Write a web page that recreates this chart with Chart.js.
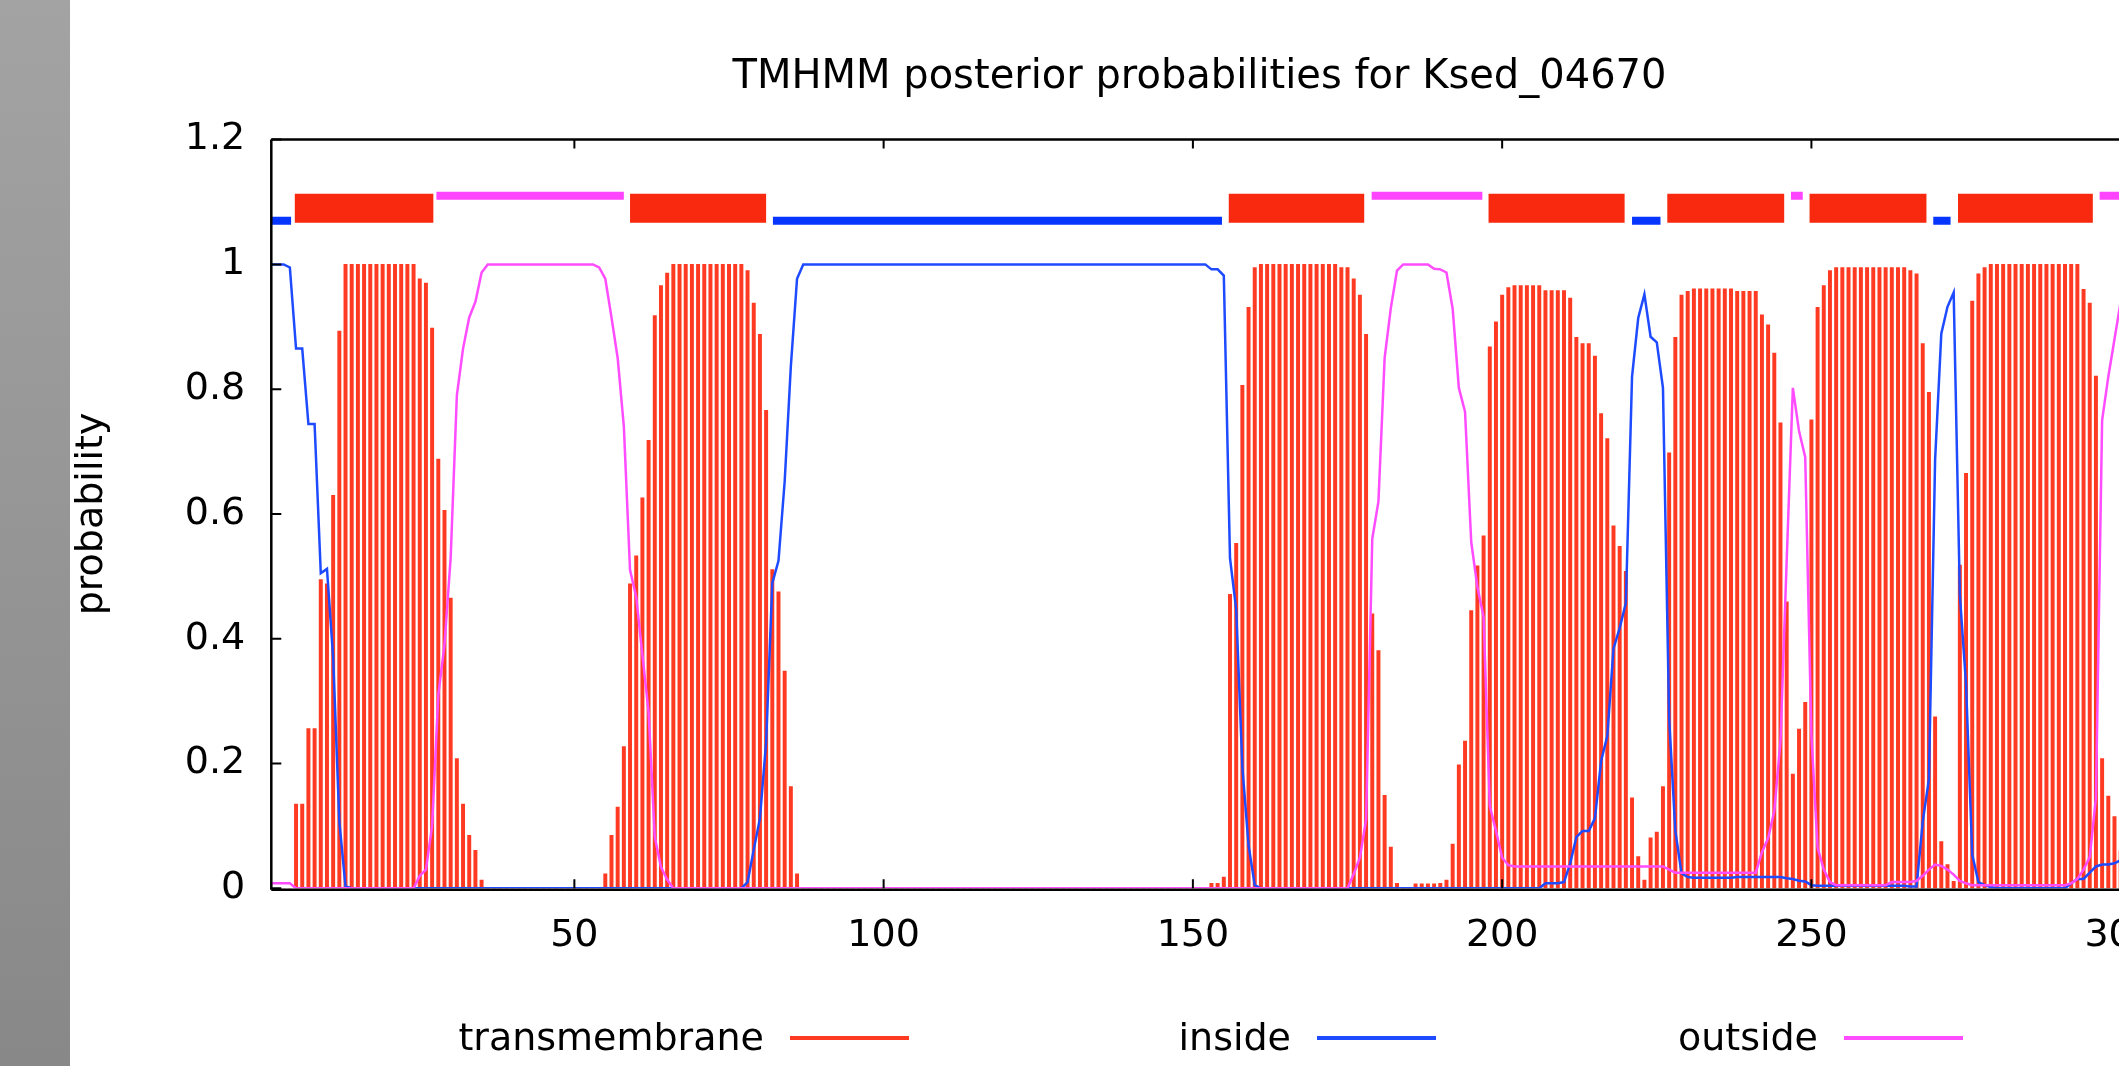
<!DOCTYPE html>
<html>
<head>
<meta charset="utf-8">
<script src="https://cdn.jsdelivr.net/npm/chart.js@4.4.1/dist/chart.umd.min.js"></script>
<style>
html,body{margin:0;padding:0;width:2119px;height:1066px;overflow:hidden;background:#fff;}
#band{position:absolute;left:0;top:0;width:70px;height:1066px;background:linear-gradient(#a3a3a3,#888888);}
#wrap{position:absolute;left:0;top:0;width:2119px;height:1066px;overflow:hidden;}
#c{position:absolute;left:0;top:0;}
.lgText{position:absolute;font-family:'DejaVu Sans';font-size:38px;line-height:38px;color:#000;white-space:nowrap;}
.lgLine{position:absolute;height:4px;}
</style>
</head>
<body>
<div id="band"></div>
<div id="wrap"><canvas id="c" width="2439" height="1066"></canvas></div>
<div id="legend"></div>
<script>
// ---------------- data ----------------
const chartTitle = 'TMHMM posterior probabilities for Ksed_04670';
const yAxisTitle = 'probability';
const seriesNames = ['transmembrane', 'inside', 'outside'];

const xTickValues = [50, 100, 150, 200, 250, 300];
const xTickLabels = ['50', '100', '150', '200', '250', '300'];
const yTickValues = [0, 0.2, 0.4, 0.6, 0.8, 1, 1.2];
const yTickLabels = ['0', '0.2', '0.4', '0.6', '0.8', '1', '1.2'];

// posterior probabilities per residue (residue 1 .. 300)
const transmembrane = [
  0,0,0,0,0.135,0.135,0.256,0.256,0.495,0.488,
  0.63,0.893,1,1,1,1,1,1,1,1,
  1,1,1,1,0.977,0.97,0.898,0.688,0.606,0.465,
  0.208,0.135,0.085,0.061,0.013,0,0,0,0,0,
  0,0,0,0,0,0,0,0,0,0,
  0,0,0,0,0.023,0.085,0.13,0.227,0.488,0.533,
  0.626,0.718,0.918,0.966,0.986,1,1,1,1,1,
  1,1,1,1,1,1,1,0.99,0.938,0.888,
  0.766,0.511,0.475,0.348,0.163,0.023,0,0,0,0,
  0,0,0,0,0,0,0,0,0,0,
  0,0,0,0,0,0,0,0,0,0,
  0,0,0,0,0,0,0,0,0,0,
  0,0,0,0,0,0,0,0,0,0,
  0,0,0,0,0,0,0,0,0,0,
  0,0,0,0,0,0,0,0,0,0,
  0,0,0.008,0.008,0.018,0.471,0.553,0.806,0.931,0.995,
  1,1,1,1,1,1,1,1,1,1,
  1,1,1,0.995,0.995,0.977,0.951,0.888,0.44,0.381,
  0.149,0.066,0.008,0,0,0.007,0.007,0.007,0.007,0.008,
  0.013,0.071,0.198,0.236,0.445,0.517,0.565,0.868,0.908,0.951,
  0.963,0.966,0.966,0.966,0.966,0.966,0.958,0.958,0.958,0.958,
  0.946,0.883,0.873,0.873,0.853,0.761,0.721,0.581,0.548,0.508,
  0.145,0.051,0.013,0.081,0.09,0.163,0.698,0.883,0.951,0.957,
  0.961,0.961,0.961,0.961,0.961,0.961,0.961,0.957,0.957,0.957,
  0.957,0.919,0.903,0.858,0.746,0.459,0.183,0.255,0.298,0.751,
  0.931,0.966,0.99,0.995,0.995,0.995,0.995,0.995,0.995,0.995,
  0.995,0.995,0.995,0.995,0.995,0.99,0.985,0.873,0.795,0.275,
  0.075,0.038,0.011,0.518,0.665,0.941,0.985,0.995,1,1,
  1,1,1,1,1,1,1,1,1,1,
  1,1,1,0.96,0.938,0.821,0.208,0.148,0.115,0.06
];

const inside = [
  1,1,1,0.995,0.865,0.865,0.744,0.744,0.505,0.512,
  0.37,0.107,0.003,0,0,0,0,0,0,0,
  0,0,0,0,0,0,0,0,0,0,
  0,0,0,0,0,0,0,0,0,0,
  0,0,0,0,0,0,0,0,0,0,
  0,0,0,0,0,0,0,0,0,0,
  0,0,0,0,0,0,0,0,0,0,
  0,0,0,0,0,0,0,0.01,0.062,0.112,
  0.234,0.489,0.525,0.652,0.837,0.977,1,1,1,1,
  1,1,1,1,1,1,1,1,1,1,
  1,1,1,1,1,1,1,1,1,1,
  1,1,1,1,1,1,1,1,1,1,
  1,1,1,1,1,1,1,1,1,1,
  1,1,1,1,1,1,1,1,1,1,
  1,1,1,1,1,1,1,1,1,1,
  1,1,0.992,0.992,0.982,0.529,0.447,0.194,0.069,0.005,
  0,0,0,0,0,0,0,0,0,0,
  0,0,0,0,0,0,0,0,0,0,
  0,0,0,0,0,0,0,0,0,0,
  0,0,0,0,0,0,0,0,0,0,
  0,0,0,0,0,0,0.008,0.008,0.008,0.01,
  0.04,0.082,0.092,0.092,0.112,0.204,0.244,0.384,0.417,0.457,
  0.82,0.914,0.952,0.884,0.875,0.802,0.272,0.092,0.024,0.018,
  0.017,0.017,0.017,0.017,0.017,0.017,0.017,0.018,0.018,0.018,
  0.018,0.018,0.018,0.018,0.018,0.016,0.015,0.012,0.011,0.005,
  0.004,0.004,0.004,0.004,0.004,0.004,0.004,0.004,0.004,0.004,
  0.004,0.004,0.004,0.004,0.004,0.003,0.003,0.107,0.175,0.687,
  0.889,0.932,0.955,0.47,0.327,0.054,0.01,0.005,0.002,0,
  0,0,0,0,0,0,0,0,0,0,
  0,0.008,0.015,0.015,0.025,0.035,0.038,0.038,0.04,0.045
];

const outside = [
  0.008,0.008,0.008,0.008,0,0,0,0,0,0,
  0,0,0,0,0,0,0,0,0,0,
  0,0,0,0,0.02,0.03,0.1,0.31,0.39,0.53,
  0.79,0.865,0.915,0.94,0.987,1,1,1,1,1,
  1,1,1,1,1,1,1,1,1,1,
  1,1,1,0.995,0.977,0.915,0.85,0.74,0.51,0.467,
  0.374,0.282,0.082,0.034,0.014,0,0,0,0,0,
  0,0,0,0,0,0,0,0,0,0,
  0,0,0,0,0,0,0,0,0,0,
  0,0,0,0,0,0,0,0,0,0,
  0,0,0,0,0,0,0,0,0,0,
  0,0,0,0,0,0,0,0,0,0,
  0,0,0,0,0,0,0,0,0,0,
  0,0,0,0,0,0,0,0,0,0,
  0,0,0,0,0,0,0,0,0,0,
  0,0,0,0,0,0,0,0,0,0,
  0,0,0,0,0,0,0,0,0,0,
  0,0,0,0,0,0.023,0.049,0.11,0.56,0.62,
  0.85,0.93,0.99,1,1,1,1,1,0.993,0.992,
  0.987,0.929,0.802,0.764,0.555,0.483,0.435,0.132,0.092,0.049,
  0.037,0.035,0.035,0.035,0.035,0.035,0.035,0.035,0.035,0.035,
  0.035,0.035,0.035,0.035,0.035,0.035,0.035,0.035,0.035,0.035,
  0.035,0.035,0.035,0.035,0.035,0.035,0.03,0.025,0.025,0.025,
  0.025,0.025,0.025,0.025,0.025,0.025,0.025,0.025,0.025,0.025,
  0.025,0.058,0.08,0.124,0.236,0.525,0.802,0.733,0.691,0.245,
  0.065,0.03,0.01,0.005,0.005,0.005,0.005,0.005,0.005,0.005,
  0.005,0.005,0.01,0.01,0.01,0.01,0.012,0.02,0.03,0.038,
  0.036,0.03,0.022,0.012,0.008,0.005,0.005,0.005,0.005,0.005,
  0.005,0.005,0.005,0.005,0.005,0.005,0.005,0.005,0.005,0.005,
  0.005,0.008,0.015,0.03,0.05,0.145,0.75,0.82,0.88,0.94
];

// predicted topology segments (residue start, residue end) and their levels
const tmSegments      = [[4.8,27.2],[59.0,81.0],[155.8,177.7],[197.8,219.8],[226.7,245.6],[249.7,268.6],[273.7,295.5]];
const insideSegments  = [[1.0,4.2],[82.1,154.7],[221.0,225.6],[269.7,272.5]];
const outsideSegments = [[27.7,58.0],[178.9,196.8],[246.7,248.6],[296.6,300.0]];
const topologyLevels  = {tm: 1.09, inside: 1.07, outside: 1.11};

// ---------------- styling ----------------
const TM_BAR = '#ff3a22', TM_TOPO = '#f8290f';
const IN_LINE = '#1e4bff', IN_TOPO = '#0535ff';
const OUT_LINE = '#ff4cff', OUT_TOPO = '#ff44ff';
const FONT = 'DejaVu Sans';

const toPoints = arr => arr.map((v, i) => ({x: i + 1, y: v}));
const segPoints = (segs, level) => segs.flatMap(s => [{x: s[0], y: level}, {x: s[1], y: level}, {x: s[1], y: null}]);

const framePlugin = {
  id: 'frame',
  afterDatasetsDraw(chart) {
    const {ctx, chartArea: a, scales: {x, y}} = chart;
    ctx.save();
    ctx.strokeStyle = '#000';
    ctx.lineWidth = 2.5;
    ctx.beginPath();
    ctx.moveTo(a.left, a.top); ctx.lineTo(a.right, a.top);
    ctx.moveTo(a.left, a.top); ctx.lineTo(a.left, a.bottom + 1.5);
    ctx.moveTo(a.left, a.bottom + 1.5); ctx.lineTo(a.right, a.bottom + 1.5);
    ctx.stroke();
    ctx.lineWidth = 2;
    ctx.beginPath();
    y.ticks.forEach(t => {
      const py = y.getPixelForValue(t.value);
      ctx.moveTo(a.left, py); ctx.lineTo(a.left + 10, py);
    });
    x.ticks.forEach(t => {
      const px = x.getPixelForValue(t.value);
      ctx.moveTo(px, a.bottom); ctx.lineTo(px, a.bottom - 9);
      ctx.moveTo(px, a.top); ctx.lineTo(px, a.top + 9);
    });
    ctx.stroke();
    ctx.restore();
  }
};

new Chart(document.getElementById('c'), {
  data: {
    datasets: [
      {type: 'line', label: seriesNames[2], data: toPoints(outside), borderColor: OUT_LINE, backgroundColor: OUT_LINE,
       borderWidth: 2.5, pointRadius: 0, tension: 0, order: 0},
      {type: 'line', label: seriesNames[1], data: toPoints(inside), borderColor: IN_LINE, backgroundColor: IN_LINE,
       borderWidth: 2.5, pointRadius: 0, tension: 0, order: 1},
      {type: 'bar', label: seriesNames[0], data: toPoints(transmembrane), backgroundColor: TM_BAR,
       borderWidth: 0, barThickness: 3.3, order: 2},
      {type: 'line', label: 'TM topology', data: segPoints(tmSegments, topologyLevels.tm), borderColor: TM_TOPO,
       borderWidth: 29, borderCapStyle: 'butt', pointRadius: 0, spanGaps: false, order: 3},
      {type: 'line', label: 'inside topology', data: segPoints(insideSegments, topologyLevels.inside), borderColor: IN_TOPO,
       borderWidth: 8, borderCapStyle: 'butt', pointRadius: 0, spanGaps: false, order: 3},
      {type: 'line', label: 'outside topology', data: segPoints(outsideSegments, topologyLevels.outside), borderColor: OUT_TOPO,
       borderWidth: 8, borderCapStyle: 'butt', pointRadius: 0, spanGaps: false, order: 3}
    ]
  },
  options: {
    responsive: false,
    animation: false,
    devicePixelRatio: 1,
    layout: {padding: {left: 0, right: 40, top: 0, bottom: 77.7}},
    plugins: {
      legend: {display: false},
      tooltip: {enabled: false},
      title: {
        display: true, text: chartTitle, color: '#000',
        font: {family: FONT, size: 40, weight: 'normal'},
        padding: {top: 54, bottom: 37.6}
      }
    },
    scales: {
      x: {
        type: 'linear', min: 1, max: 345, offset: false,
        grid: {display: false, drawTicks: false},
        border: {display: false},
        ticks: {color: '#000', font: {family: FONT, size: 38}, padding: 25, maxRotation: 0, autoSkip: false,
                callback: (v, i) => xTickLabels[i]},
        afterBuildTicks: s => { s.ticks = xTickValues.map(v => ({value: v})); },
        afterFit: s => { s.height = 100; s.paddingLeft = 0; s.paddingRight = 0; }
      },
      y: {
        type: 'linear', min: 0, max: 1.2,
        grid: {display: false, drawTicks: false},
        border: {display: false},
        ticks: {color: '#000', font: {family: FONT, size: 38}, padding: 26,
                callback: (v, i) => yTickLabels[i]},
        afterBuildTicks: s => { s.ticks = yTickValues.map(v => ({value: v})); },
        title: {display: true, text: yAxisTitle, color: '#000', font: {family: FONT, size: 38, weight: 'normal'},
                padding: {top: 69, bottom: 0}},
        afterFit: s => { s.width = 271.3; }
      }
    }
  },
  plugins: [framePlugin]
});

// legend (gnuplot style: label text followed by a line sample)
const legendColors = [TM_BAR, IN_LINE, OUT_LINE];
const legendTextRight = [764, 1291, 1818];
const lg = document.getElementById('legend');
seriesNames.forEach((name, i) => {
  const t = document.createElement('div');
  t.className = 'lgText';
  t.textContent = name;
  t.style.right = (2119 - legendTextRight[i]) + 'px';
  t.style.top = '1018px';
  lg.appendChild(t);
  const l = document.createElement('div');
  l.className = 'lgLine';
  l.style.left = (legendTextRight[i] + 26) + 'px';
  l.style.width = '119px';
  l.style.top = '1036px';
  l.style.background = legendColors[i];
  lg.appendChild(l);
});
</script>
</body>
</html>
